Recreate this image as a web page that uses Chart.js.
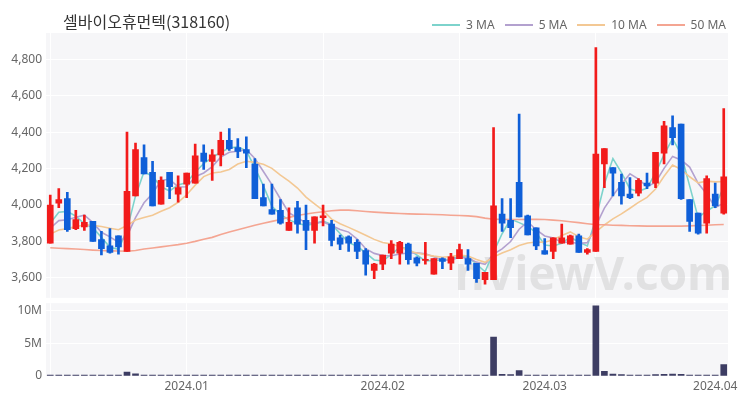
<!DOCTYPE html>
<html><head><meta charset="utf-8">
<script src="https://cdn.jsdelivr.net/npm/chart.js@4.4.1/dist/chart.umd.min.js"></script>
<style>
html,body{margin:0;padding:0;background:#fff;}
#wrap{position:relative;width:750px;height:400px;overflow:hidden;font-family:'Noto Sans CJK KR','Noto Sans',sans-serif;}
#title{position:absolute;left:63px;top:9px;font-size:16px;color:#333;white-space:nowrap;}
#legend{position:absolute;top:16px;right:24px;display:flex;align-items:center;font-size:12px;color:#666;font-family:'Noto Sans',sans-serif;}
#legend .it{display:flex;align-items:center;margin-left:10px;}
#legend .ln{width:28px;height:2px;margin-right:6px;}
#c1box{position:absolute;left:0;top:0;width:750px;height:309px;}
#c2box{position:absolute;left:0;top:292px;width:750px;height:108px;}
</style>
</head><body>
<div id="wrap">
  <div id="c1box"><canvas id="c1"></canvas></div>
  <div id="c2box"><canvas id="c2"></canvas></div>
  <div id="title">셀바이오휴먼텍(318160)</div>
  <div id="legend"></div>
</div>
<script>
// ---- data ----
const opens  = [3790,4010,4035,3870,3880,3910,3810,3775,3830,3745,4050,4260,4180,4005,4180,4060,4115,4120,4285,4240,
                4275,4355,4315,4305,4225,4040,3975,3970,3860,3985,3915,3860,3930,3895,3820,3825,3795,3750,3640,3675,
                3735,3735,3785,3710,3695,3620,3705,3680,3705,3705,3680,3590,3590,3950,3915,4125,3940,3875,3750,3745,
                3790,3785,3830,3740,3745,4225,4205,4125,4060,4065,4120,4120,4285,4425,4445,4030,3955,3900,4060,3955];
const highs  = [4055,4090,4070,3970,3945,3910,3855,3870,3830,4400,4340,4330,4240,4155,4180,4160,4175,4335,4330,4305,
                4400,4420,4365,4375,4255,4115,4115,4030,3985,4020,4000,3935,4000,3915,3835,3830,3810,3760,3680,3725,
                3805,3800,3790,3715,3795,3705,3710,3735,3785,3755,3680,3630,4425,4035,4035,4500,3945,3875,3815,3820,
                3895,3835,3840,3760,4865,4310,4205,4170,4150,4145,4175,4290,4460,4490,4445,4030,3955,4160,4120,4530];
const lows   = [3790,3985,3855,3865,3860,3800,3725,3735,3730,3745,4050,4170,3995,4005,4035,4015,4040,4120,4195,4135,
                4215,4300,4260,4205,4035,3995,3950,3895,3860,3845,3755,3790,3885,3775,3755,3745,3705,3615,3595,3645,
                3705,3675,3675,3665,3675,3620,3650,3645,3705,3640,3575,3565,3590,3855,3820,3935,3835,3755,3730,3705,
                3790,3785,3740,3730,3745,4095,4050,4005,4035,4050,4090,4095,4225,4330,4030,3855,3840,3845,3985,3950];
const closes = [4000,4030,3865,3920,3905,3800,3760,3740,3770,4075,4305,4170,3995,4135,4100,4095,4175,4270,4240,4275,
                4355,4310,4295,4285,4035,3995,3950,3900,3905,3895,3860,3935,3940,3805,3785,3790,3745,3675,3675,3725,
                3785,3795,3700,3680,3700,3705,3690,3715,3755,3675,3595,3630,3995,3900,3875,3935,3835,3775,3730,3820,
                3820,3830,3740,3755,4280,4310,4175,4050,4040,4135,4105,4290,4435,4370,4035,3910,3845,4145,3995,4155];
// estimated closes just before the visible window (for the first moving-average points)
const priorCloses = [3800,3800,3810,3810,3820,3820,3840,3850,3850];
// 50-day moving average
const ma50 = [3765,3762,3760,3758,3755,3752,3750,3748,3747,3746,3750,3758,3764,3770,3776,3782,3790,3800,3812,3822,
              3838,3852,3864,3876,3889,3900,3910,3920,3932,3942,3950,3957,3963,3968,3972,3972,3968,3964,3961,3958,
              3955,3953,3951,3950,3949,3948,3946,3944,3942,3940,3936,3928,3922,3921,3920,3920,3921,3921,3920,3917,
              3913,3908,3903,3897,3892,3891,3889,3888,3886,3885,3884,3884,3884,3884,3884,3885,3887,3889,3891,3893];
// volume in millions of shares
const volumes = [0.06,0.05,0.07,0.05,0.04,0.05,0.06,0.05,0.05,0.60,0.35,0.10,0.08,0.06,0.05,0.05,0.10,0.06,0.05,0.05,
                 0.06,0.05,0.05,0.05,0.07,0.06,0.05,0.05,0.04,0.05,0.05,0.04,0.05,0.05,0.04,0.04,0.05,0.06,0.08,0.05,
                 0.04,0.05,0.04,0.04,0.05,0.05,0.04,0.04,0.05,0.05,0.06,0.07,6.00,0.25,0.20,0.85,0.10,0.06,0.05,0.05,
                 0.05,0.05,0.06,0.05,10.80,0.70,0.30,0.22,0.10,0.08,0.10,0.20,0.25,0.30,0.25,0.15,0.08,0.10,0.10,1.75];
const monthTicks = {16:'2024.01', 39:'2024.02', 58:'2024.03', 78:'2024.04'};
const priceTicks = [3600,3800,4000,4200,4400,4600,4800];
const volumeTicks = [0,5,10];
const maNames = ['3 MA','5 MA','10 MA','50 MA'];
const maColors = ['#7dd3cc','#b3a1cf','#f3c894','#f4a592'];

// ---- derived ----
const labels = closes.map((_, i) => 'd' + i);
const all = priorCloses.concat(closes);
function sma(n) {
  return closes.map((_, i) => {
    const k = i + priorCloses.length;
    let s = 0; for (let j = k - n + 1; j <= k; j++) s += all[j];
    return Math.round(s / n);
  });
}
const UP = '#f21b1b', DOWN = '#0f5fd8';
const cColors = closes.map((c, i) => c >= opens[i] ? UP : DOWN);
const bodies = closes.map((c, i) => {
  let a = opens[i], b = c; if (Math.abs(a - b) < 6) { b = a + (c >= opens[i] ? 6 : -6); }
  return [a, b];
});
const wicks = highs.map((h, i) => [lows[i], h]);
const maData = [sma(3), sma(5), sma(10), ma50];

// legend
const lg = document.getElementById('legend');
maNames.forEach((n, i) => {
  const it = document.createElement('div'); it.className = 'it';
  it.innerHTML = '<span class="ln" style="background:' + maColors[i] + '"></span><span>' + n + '</span>';
  lg.appendChild(it);
});

const bgPlugin = {
  id: 'bg',
  beforeDraw(chart) {
    const a = chart.chartArea, c = chart.ctx;
    c.save(); c.fillStyle = '#f6f6f8'; c.fillRect(a.left, a.top, a.right - a.left, a.bottom - a.top); c.restore();
  }
};
const wmPlugin = {
  id: 'wm',
  beforeDatasetsDraw(chart) {
    const c = chart.ctx;
    c.save();
    c.font = 'bold 46px "Noto Sans", sans-serif';
    c.fillStyle = 'rgba(200,200,200,0.45)';
    c.textAlign = 'right'; c.textBaseline = 'alphabetic';
    c.fillText('nViewV.com', 732, 290);
    c.restore();
  }
};
const gridColor = (ctx) => (ctx.index % 16 === 0 ? '#ffffff' : 'rgba(0,0,0,0)');
const tickFont = { family: "'Noto Sans', sans-serif", size: 12 };

Chart.defaults.animation = false;

new Chart(document.getElementById('c1'), {
  data: {
    labels,
    datasets: [
      { type: 'bar', data: bodies, backgroundColor: cColors, barThickness: 6, grouped: false, order: 0 },
      { type: 'bar', data: wicks, backgroundColor: cColors, barThickness: 2, grouped: false, order: 1 },
      ...maData.map((d, i) => ({ type: 'line', label: maNames[i], data: d, borderColor: maColors[i],
        borderWidth: 1.6, pointRadius: 0, tension: 0, fill: false, order: 5 - i }))
    ]
  },
  options: {
    responsive: true, maintainAspectRatio: false, animation: false,
    layout: { padding: { left: 0, right: 22, top: 33, bottom: 4 } },
    plugins: { legend: { display: false }, tooltip: { enabled: false } },
    scales: {
      x: { offset: true, ticks: { display: false }, border: { display: false },
           grid: { drawTicks: false, color: gridColor, offset: false },
           afterFit(s) { s.height = 0; } },
      y: { min: 3490, max: 4945, border: { display: false },
           grid: { color: '#ffffff', drawTicks: false },
           afterBuildTicks(s) { s.ticks = priceTicks.map(v => ({ value: v })); },
           ticks: { color: '#666', font: tickFont, padding: 4, callback: v => v.toLocaleString('en-US') },
           afterFit(s) { s.width = 46; } }
    }
  },
  plugins: [bgPlugin, wmPlugin]
});

new Chart(document.getElementById('c2'), {
  type: 'bar',
  data: { labels, datasets: [{ data: volumes, backgroundColor: '#3d3d63', barThickness: 6, minBarLength: 1 }] },
  options: {
    responsive: true, maintainAspectRatio: false, animation: false,
    layout: { padding: { left: 0, right: 22, top: 4, bottom: 0 } },
    plugins: { legend: { display: false }, tooltip: { enabled: false } },
    scales: {
      x: { offset: true, border: { display: false },
           grid: { drawTicks: false, color: gridColor, offset: false },
           ticks: { autoSkip: false, maxRotation: 0, color: '#666', font: tickFont, padding: 3,
                    callback: (v, i) => monthTicks[i] || '' },
           afterFit(s) { s.height = 24; } },
      y: { min: 0, max: 11.2, border: { display: false },
           grid: { color: '#ffffff', drawTicks: false },
           afterBuildTicks(s) { s.ticks = volumeTicks.map(v => ({ value: v })); },
           ticks: { color: '#666', font: tickFont, padding: 4, callback: v => (v === 0 ? '0' : v + 'M') },
           afterFit(s) { s.width = 46; } }
    }
  },
  plugins: [bgPlugin]
});
</script>
</body></html>
